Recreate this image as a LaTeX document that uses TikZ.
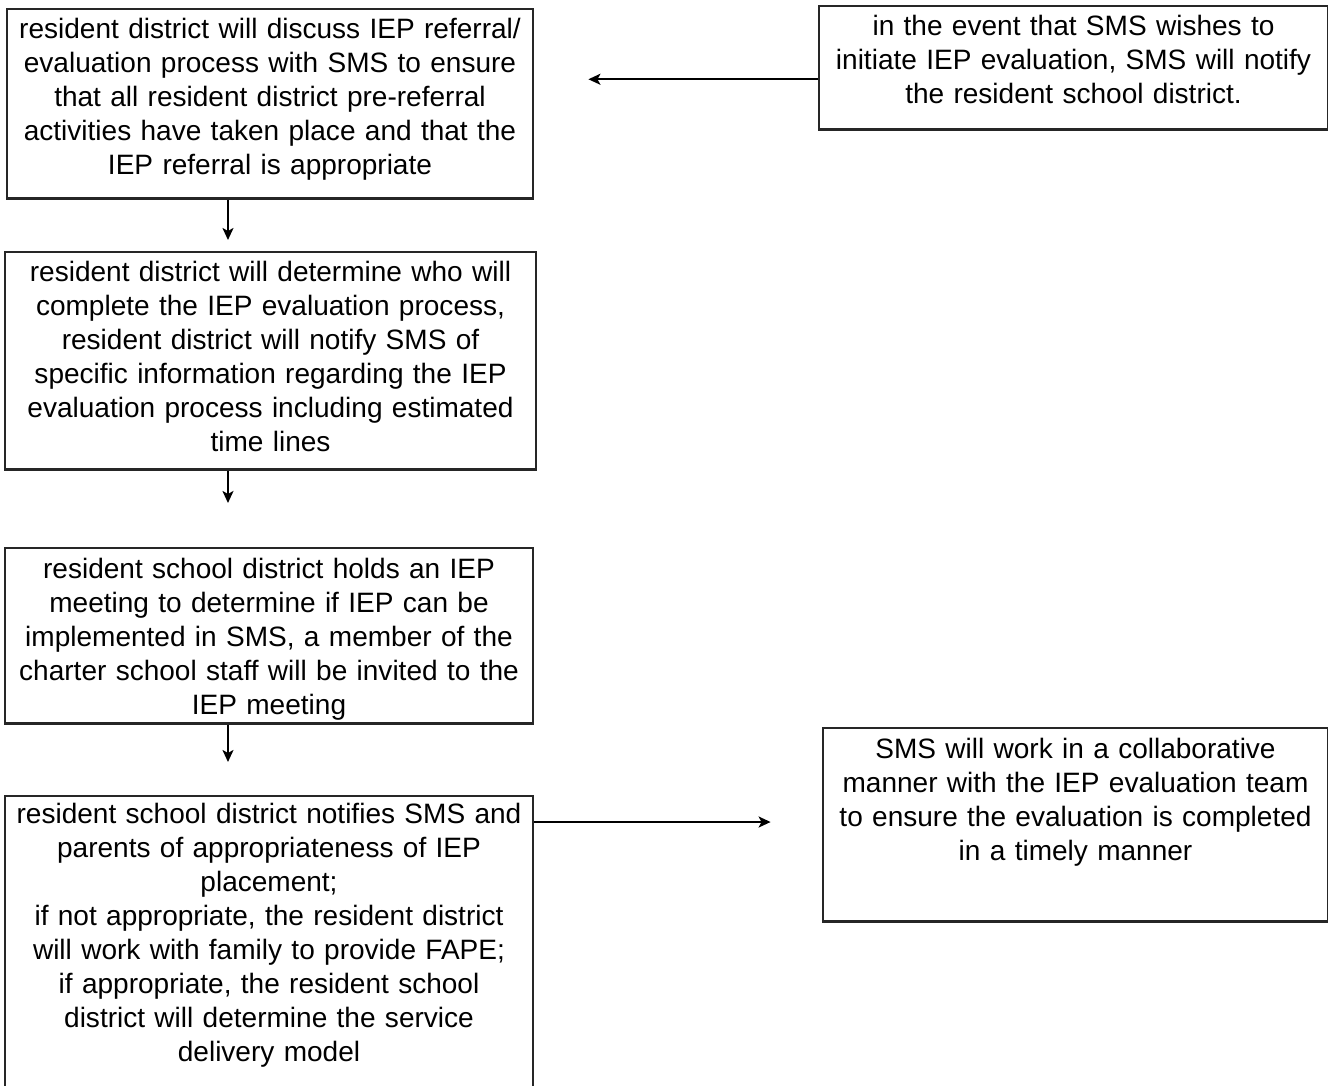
\documentclass[tikz,border=0pt]{standalone}
\usepackage{fontspec}
\setmainfont{Liberation Sans}
\usetikzlibrary{arrows.meta}

\begin{document}
\begin{tikzpicture}[x=0.01cm, y=-0.01cm,
  stepbox/.style={draw=black!85, line width=0.7pt, anchor=north, inner xsep=0pt, inner ysep=0pt,
                  align=center, text height=0.29cm,
                  font=\fontsize{7.97pt}{9.67pt}\selectfont},
  arr/.style    ={draw=black, line width=0.6pt, -{Stealth[length=0.12cm, width=0.11cm, inset=0.03cm]}}]

  \useasboundingbox (0,0) rectangle (1328,1085);

  % ---------------- left column ----------------
  \node[stepbox, text width=5.26cm, text depth=1.60cm] (discuss) at (270,8)
    {resident district will discuss IEP referral/\\ evaluation process with SMS to ensure\\
     that all resident district pre-referral\\ activities have taken place and that the\\
     IEP referral is appropriate};
  \node[stepbox, text width=5.31cm, text depth=1.88cm] (determine) at (270.5,251)
    {resident district will determine who will\\ complete the IEP evaluation process,\\
     resident district will notify SMS of\\ specific information regarding the IEP\\
     evaluation process including estimated\\ time lines};
  \node[stepbox, text width=5.28cm, text height=0.30cm, text depth=1.45cm] (meeting) at (269,547)
    {resident school district holds an IEP\\ meeting to determine if IEP can be\\
     implemented in SMS, a member of the\\ charter school staff will be invited to the\\
     IEP meeting};
  \node[stepbox, text width=5.28cm, text height=0.27cm, text depth=3.20cm] (notify) at (269,795)
    {resident school district notifies SMS and\\ parents of appropriateness of IEP\\
     placement;\\ if not appropriate, the resident district\\
     will work with family to provide FAPE;\\ if appropriate, the resident school\\
     district will determine the service\\ delivery model};

  % ---------------- right column ----------------
  \node[stepbox, text width=5.09cm, text depth=0.94cm] (initiate) at (1073.5,5)
    {in the event that SMS wishes to\\ initiate IEP evaluation, SMS will notify\\
     the resident school district.};
  \node[stepbox, text width=5.05cm, text height=0.30cm, text depth=1.63cm] (collab) at (1075.5,727)
    {SMS will work in a collaborative\\ manner with the IEP evaluation team\\
     to ensure the evaluation is completed\\ in a timely manner};

  % ---------------- connectors ----------------
  \draw[arr, shorten >=0.54cm] ([yshift=-0.115cm]initiate.west) -- ([yshift=-0.115cm]initiate.west -| discuss.east);
  \draw[arr, shorten >=0.11cm] ([xshift=-0.42cm]discuss.south) -- ([xshift=-0.42cm]discuss.south |- determine.north);
  \draw[arr, shorten >=0.44cm] ([xshift=-0.425cm]determine.south) -- ([xshift=-0.425cm]determine.south |- meeting.north);
  \draw[arr, shorten >=0.33cm] ([xshift=-0.41cm]meeting.south) -- ([xshift=-0.41cm]meeting.south |- notify.north);
  \draw[arr, shorten >=0.51cm] ([yshift=-0.27cm]notify.north east) -- ([yshift=-0.27cm]notify.north east -| collab.west);
\end{tikzpicture}
\end{document}
